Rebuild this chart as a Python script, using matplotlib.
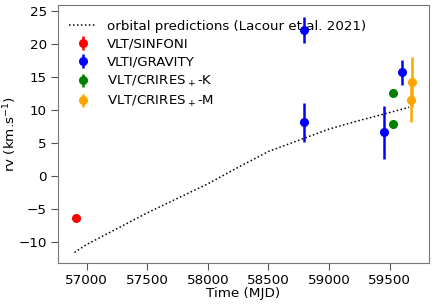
import matplotlib
matplotlib.use("Agg")
import matplotlib.pyplot as plt

# orbital prediction curve
orb_mjd = [56900, 57000, 57250, 57500, 57750, 58000, 58250, 58500, 58750, 59000, 59250, 59500, 59660]
orb_rv = [-11.6, -10.4, -8.0, -5.6, -3.4, -1.2, 1.3, 3.7, 5.4, 7.1, 8.4, 9.6, 10.4]

sinfoni_mjd = [56913]
sinfoni_rv = [-6.35]
sinfoni_err = [0.55]

gravity_mjd = [58793, 58793, 59455, 59603]
gravity_rv = [22.1, 8.1, 6.6, 15.7]
gravity_err = [2.0, 2.9, 4.0, 1.9]

crk_mjd = [59529, 59529]
crk_rv = [12.6, 7.8]
crk_err = [0.45, 0.3]

crm_mjd = [59680, 59672]
crm_rv = [14.2, 11.5]
crm_err = [3.8, 3.4]

fig = plt.figure(figsize=(4.35, 3.06), dpi=100)
ax = fig.add_axes([58/435, 1 - 263/306, (429 - 58)/435, (263 - 5)/306])

ax.plot(orb_mjd, orb_rv, ls=(0, (1, 1.6)), color="black", lw=1.1,
        label="orbital predictions (Lacour et al. 2021)")
kw = dict(fmt="o", ms=5.5, elinewidth=1.8, capsize=0)
ax.errorbar(sinfoni_mjd, sinfoni_rv, yerr=sinfoni_err, color="red", label="VLT/SINFONI", **kw)
ax.errorbar(gravity_mjd, gravity_rv, yerr=gravity_err, color="blue", label="VLTI/GRAVITY", **kw)
ax.errorbar(crk_mjd, crk_rv, yerr=crk_err, color="green", label="VLT/CRIRES$_+$-K", **kw)
ax.errorbar(crm_mjd, crm_rv, yerr=crm_err, color="orange", label="VLT/CRIRES$_+$-M", **kw)

ax.set_xlim(56764, 59824)
ax.set_ylim(-13.2, 25.9)
ax.set_xticks([57000, 57500, 58000, 58500, 59000, 59500])
ax.set_yticks([-10, -5, 0, 5, 10, 15, 20, 25])
ax.tick_params(labelsize=9.7, length=5, color="#555555", pad=3)
for s in ax.spines.values():
    s.set_color("#777777")
ax.set_xlabel("Time (MJD)", fontsize=9.7, labelpad=0)
ax.set_ylabel("rv (km.s$^{-1}$)", fontsize=9.7, labelpad=0)
ax.legend(loc="upper left", bbox_to_anchor=(-0.009, 1.0), frameon=False, fontsize=9.6,
          handletextpad=0.8, borderaxespad=0.7, labelspacing=0.38, handlelength=2.0)

fig.savefig("out.png", dpi=100)
